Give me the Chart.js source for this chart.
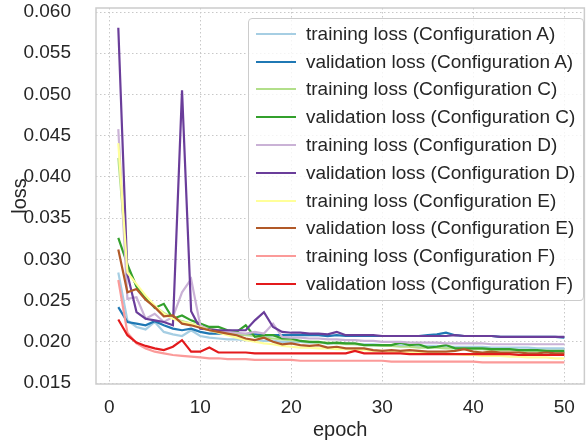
<!DOCTYPE html>
<html>
<head>
<meta charset="utf-8">
<script src="https://cdn.jsdelivr.net/npm/chart.js@4.4.0/dist/chart.umd.min.js"></script>
<style>
  body { margin: 0; background: #fff; }
  #wrap { position: relative; width: 587px; height: 443px; }
  #legend {
    position: absolute; left: 248px; top: 18px; width: 336px; height: 283px;
    box-sizing: border-box; border: 1px solid #cccccc; border-radius: 4px;
    background: rgba(255, 255, 255, 0.8);
    font-family: "Liberation Sans", Arial, sans-serif; font-size: 19px; color: #262626;
    padding-top: 1px;
  }
  .row { display: flex; align-items: center; height: 27.8px; white-space: nowrap; }
  .sw { width: 40px; height: 2px; margin-left: 7px; margin-right: 10px; }
</style>
</head>
<body>
<div id="wrap">
  <canvas id="myChart" width="587" height="443"></canvas>
  <div id="legend"></div>
</div>
<script>
const epochs = Array.from({ length: 50 }, (_, i) => i + 1);
const xTicks = [0, 10, 20, 30, 40, 50];
const yTicks = [0.015, 0.020, 0.025, 0.030, 0.035, 0.040, 0.045, 0.050, 0.055, 0.060];

const labels = [
  'training loss (Configuration A)',
  'validation loss (Configuration A)',
  'training loss (Configuration C)',
  'validation loss (Configuration C)',
  'training loss (Configuration D)',
  'validation loss (Configuration D)',
  'training loss (Configuration E)',
  'validation loss (Configuration E)',
  'training loss (Configuration F)',
  'validation loss (Configuration F)',
];
const colors = ['#a6cee3', '#1f78b4', '#b2df8a', '#33a02c', '#cab2d6', '#6a3d9a', '#ffff99', '#b15928', '#fb9a99', '#e31a1c'];

const trainA = [0.0284, 0.0226, 0.0218, 0.0215, 0.0224, 0.0212, 0.0209, 0.0207, 0.0214, 0.0207,
  0.0205, 0.0204, 0.0203, 0.0203, 0.0202, 0.0202, 0.0201, 0.0201, 0.0200, 0.0200,
  0.0200, 0.0199, 0.0199, 0.0198, 0.0198, 0.0198, 0.0197, 0.0197, 0.0197, 0.0196,
  0.0196, 0.0196, 0.0195, 0.0195, 0.0195, 0.0195, 0.0194, 0.0194, 0.0194, 0.0194,
  0.0194, 0.0193, 0.0193, 0.0193, 0.0193, 0.0193, 0.0192, 0.0192, 0.0192, 0.0192];
const valA = [0.0242, 0.0224, 0.0222, 0.0220, 0.0225, 0.0220, 0.0216, 0.0214, 0.0216, 0.0212,
  0.0210, 0.0210, 0.0210, 0.0209, 0.0209, 0.0209, 0.0208, 0.0208, 0.0208, 0.0208,
  0.0208, 0.0208, 0.0208, 0.0207, 0.0208, 0.0207, 0.0207, 0.0207, 0.0207, 0.0207,
  0.0207, 0.0207, 0.0207, 0.0207, 0.0208, 0.0209, 0.0211, 0.0208, 0.0207, 0.0207,
  0.0207, 0.0207, 0.0206, 0.0206, 0.0206, 0.0206, 0.0206, 0.0206, 0.0206, 0.0205];
const trainC = [0.0423, 0.0290, 0.0268, 0.0254, 0.0243, 0.0235, 0.0229, 0.0225, 0.0222, 0.0219,
  0.0216, 0.0214, 0.0212, 0.0210, 0.0208, 0.0207, 0.0205, 0.0204, 0.0203, 0.0202,
  0.0201, 0.0200, 0.0199, 0.0199, 0.0198, 0.0197, 0.0197, 0.0196, 0.0196, 0.0195,
  0.0195, 0.0194, 0.0194, 0.0193, 0.0193, 0.0193, 0.0192, 0.0192, 0.0191, 0.0191,
  0.0191, 0.0190, 0.0190, 0.0190, 0.0189, 0.0189, 0.0189, 0.0189, 0.0188, 0.0188];
const valC = [0.0326, 0.0294, 0.0267, 0.0254, 0.0241, 0.0246, 0.0228, 0.0232, 0.0226, 0.0222,
  0.0218, 0.0218, 0.0214, 0.0212, 0.0220, 0.0206, 0.0208, 0.0208, 0.0204, 0.0204,
  0.0201, 0.0200, 0.0200, 0.0198, 0.0199, 0.0198, 0.0198, 0.0196, 0.0196, 0.0196,
  0.0196, 0.0199, 0.0196, 0.0197, 0.0193, 0.0194, 0.0196, 0.0192, 0.0192, 0.0192,
  0.0192, 0.0191, 0.0191, 0.0191, 0.0190, 0.0190, 0.0190, 0.0189, 0.0189, 0.0189];
const trainD = [0.0458, 0.0252, 0.0254, 0.0228, 0.0234, 0.0224, 0.0230, 0.0260, 0.0276, 0.0220,
  0.0214, 0.0213, 0.0212, 0.0211, 0.0210, 0.0212, 0.0210, 0.0222, 0.0206, 0.0205,
  0.0205, 0.0204, 0.0204, 0.0203, 0.0203, 0.0202, 0.0202, 0.0201, 0.0201, 0.0200,
  0.0200, 0.0200, 0.0199, 0.0199, 0.0199, 0.0199, 0.0198, 0.0198, 0.0198, 0.0198,
  0.0198, 0.0197, 0.0197, 0.0197, 0.0197, 0.0197, 0.0197, 0.0197, 0.0197, 0.0197];
const valD = [0.0581, 0.0282, 0.0236, 0.0228, 0.0226, 0.0224, 0.0220, 0.0505, 0.0237, 0.0216,
  0.0215, 0.0214, 0.0214, 0.0214, 0.0214, 0.0226, 0.0236, 0.0218, 0.0212, 0.0211,
  0.0211, 0.0210, 0.0210, 0.0209, 0.0212, 0.0208, 0.0208, 0.0208, 0.0208, 0.0207,
  0.0207, 0.0207, 0.0207, 0.0207, 0.0207, 0.0207, 0.0207, 0.0208, 0.0207, 0.0207,
  0.0207, 0.0207, 0.0206, 0.0206, 0.0206, 0.0206, 0.0206, 0.0206, 0.0206, 0.0206];
const trainE = [0.0441, 0.0284, 0.0270, 0.0256, 0.0244, 0.0234, 0.0228, 0.0224, 0.0222, 0.0218,
  0.0214, 0.0211, 0.0208, 0.0205, 0.0202, 0.0200, 0.0198, 0.0197, 0.0195, 0.0194,
  0.0193, 0.0193, 0.0192, 0.0192, 0.0191, 0.0191, 0.0190, 0.0190, 0.0189, 0.0189,
  0.0188, 0.0188, 0.0187, 0.0187, 0.0186, 0.0186, 0.0185, 0.0185, 0.0184, 0.0184,
  0.0183, 0.0183, 0.0183, 0.0182, 0.0182, 0.0181, 0.0181, 0.0181, 0.0180, 0.0180];
const valE = [0.0312, 0.0260, 0.0264, 0.0251, 0.0242, 0.0231, 0.0232, 0.0222, 0.0220, 0.0217,
  0.0214, 0.0212, 0.0210, 0.0208, 0.0204, 0.0202, 0.0205, 0.0200, 0.0197, 0.0198,
  0.0196, 0.0195, 0.0196, 0.0193, 0.0194, 0.0192, 0.0192, 0.0192, 0.0190, 0.0189,
  0.0190, 0.0189, 0.0190, 0.0189, 0.0188, 0.0188, 0.0188, 0.0189, 0.0191, 0.0188,
  0.0187, 0.0188, 0.0187, 0.0187, 0.0187, 0.0186, 0.0186, 0.0187, 0.0186, 0.0186];
const trainF = [0.0275, 0.0211, 0.0198, 0.0192, 0.0188, 0.0186, 0.0184, 0.0183, 0.0182, 0.0181,
  0.0180, 0.0180, 0.0179, 0.0179, 0.0179, 0.0178, 0.0178, 0.0178, 0.0178, 0.0178,
  0.0177, 0.0177, 0.0177, 0.0177, 0.0177, 0.0177, 0.0177, 0.0177, 0.0177, 0.0177,
  0.0176, 0.0176, 0.0176, 0.0176, 0.0176, 0.0176, 0.0176, 0.0176, 0.0176, 0.0176,
  0.0175, 0.0175, 0.0175, 0.0175, 0.0175, 0.0175, 0.0175, 0.0175, 0.0175, 0.0175];
const valF = [0.0227, 0.0208, 0.0199, 0.0195, 0.0192, 0.0190, 0.0194, 0.0202, 0.0188, 0.0188,
  0.0193, 0.0187, 0.0187, 0.0187, 0.0187, 0.0186, 0.0186, 0.0186, 0.0186, 0.0186,
  0.0186, 0.0186, 0.0186, 0.0186, 0.0186, 0.0186, 0.0189, 0.0186, 0.0186, 0.0186,
  0.0186, 0.0186, 0.0185, 0.0185, 0.0185, 0.0185, 0.0185, 0.0185, 0.0185, 0.0185,
  0.0185, 0.0185, 0.0185, 0.0185, 0.0184, 0.0184, 0.0184, 0.0184, 0.0184, 0.0184];

const series = [trainA, valA, trainC, valC, trainD, valD, trainE, valE, trainF, valF];

const font = { family: '"Liberation Sans", Arial, sans-serif', size: 19 };
const textColor = '#262626';

// matplotlib-style frame around the plot area
const frame = {
  id: 'frame',
  afterDraw(chart) {
    const { ctx, chartArea: a } = chart;
    ctx.save();
    ctx.strokeStyle = '#cccccc';
    ctx.lineWidth = 1.5;
    ctx.strokeRect(a.left, a.top, a.right - a.left, a.bottom - a.top);
    ctx.restore();
  },
};

const ctx = document.getElementById('myChart');
const myChart = new Chart(ctx, {
  type: 'line',
  data: {
    datasets: series.map((s, i) => ({
      label: labels[i],
      data: s.map((v, j) => ({ x: epochs[j], y: v })),
      borderColor: colors[i],
      backgroundColor: colors[i],
      borderWidth: 2.2,
      pointRadius: 0,
      tension: 0,
      fill: false,
      order: series.length - i,
    })),
  },
  plugins: [frame],
  options: {
    responsive: false,
    animation: false,
    layout: { autoPadding: false, padding: { top: 8, right: 2, left: 0, bottom: 0 } },
    plugins: {
      legend: { display: false },
      tooltip: { enabled: false },
    },
    scales: {
      x: {
        type: 'linear',
        min: -1.45,
        max: 52.2,
        afterBuildTicks: (scale) => { scale.ticks = xTicks.map((v) => ({ value: v })); },
        afterFit: (scale) => { scale.height = 59; },
        ticks: { font, color: textColor, padding: 12, maxRotation: 0 },
        grid: { color: '#c8c8c8', lineWidth: 1, drawTicks: false },
        border: { display: false, dash: [1.5, 2.5] },
        title: { display: true, text: 'epoch', font: { ...font, size: 20 }, color: textColor, padding: { top: 0, bottom: 1 } },
      },
      y: {
        min: 0.01488,
        max: 0.06049,
        afterBuildTicks: (scale) => { scale.ticks = yTicks.map((v) => ({ value: v })); },
        afterFit: (scale) => {
          scale.width = 96;
          scale.paddingTop = 0;
          scale.paddingBottom = 0;
        },
        ticks: { font, color: textColor, padding: 25, callback: (v) => v.toFixed(3) },
        grid: { color: '#c8c8c8', lineWidth: 1, drawTicks: false },
        border: { display: false, dash: [1.5, 2.5] },
        title: { display: true, text: 'loss', font: { ...font, size: 20 }, color: textColor, padding: { top: 8, bottom: 0 } },
      },
    },
  },
});

// legend box drawn as html, built from the same labels and colours
const legendEl = document.getElementById('legend');
labels.forEach((l, i) => {
  const row = document.createElement('div');
  row.className = 'row';
  const sw = document.createElement('span');
  sw.className = 'sw';
  sw.style.background = colors[i];
  const txt = document.createElement('span');
  txt.textContent = l;
  row.appendChild(sw);
  row.appendChild(txt);
  legendEl.appendChild(row);
});
</script>
</body>
</html>
